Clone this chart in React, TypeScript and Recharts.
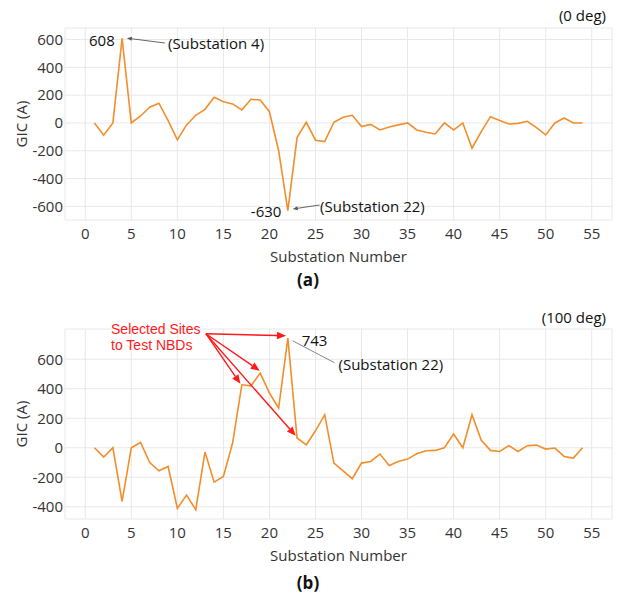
import { LineChart, Line, XAxis, YAxis, CartesianGrid, ReferenceLine, ReferenceDot } from 'recharts';

const substations = [
  1, 2, 3, 4, 5, 6, 7, 8, 9, 10, 11, 12, 13, 14, 15, 16, 17, 18, 19, 20, 21, 22, 23, 24, 25, 26, 27,
  28, 29, 30, 31, 32, 33, 34, 35, 36, 37, 38, 39, 40, 41, 42, 43, 44, 45, 46, 47, 48, 49, 50, 51, 52, 53, 54,
];
// GIC per substation, storm field at 0 deg
const gic0deg = [
  0, -88, 0, 608, 0, 50, 113, 142, 17, -122, -14, 55, 98, 185, 153, 137, 94, 170, 165, 81, -200, -630, -105, 5, -124, -134, 5,
  41, 55, -26, -10, -50, -29, -14, 0, -50, -67, -79, 0, -50, 0, -182, -62, 45, 17, -7, -3, 12, -34, -86, 0, 36, 0, 0,
];
// GIC per substation, storm field at 100 deg
const gic100deg = [
  0, -63, 0, -364, 0, 36, -100, -156, -127, -411, -321, -420, -29, -233, -194, 32, 427, 420, 506, 371, 269, 743, 66, 20, 115, 224, -104,
  -156, -210, -104, -93, -43, -120, -93, -77, -41, -20, -18, 0, 93, 0, 224, 50, -18, -25, 14, -25, 14, 18, -9, -2, -59, -70, 0,
];

const xTicks = [0, 5, 10, 15, 20, 25, 30, 35, 40, 45, 50, 55];
const yTicks0 = [-600, -400, -200, 0, 200, 400, 600];
const yTicks100 = [-400, -200, 0, 200, 400, 600];
// sites picked for the NBD tests in the 100 deg case
const selectedSites = [22, 19, 17, 23];

const ORANGE = '#F28E2B';
const GRID = '#e8e8e8';
const INK = '#333333';
const RED = '#ff1a1a';
const FONT = '"Open Sans", sans-serif';
const ARIAL = '"Liberation Sans", Arial, sans-serif';

const data0 = substations.map((s, i) => ({ s, gic: gic0deg[i] }));
const data100 = substations.map((s, i) => ({ s, gic: gic100deg[i] }));

// line from (x1,y1) to (x2,y2) with an arrowhead at the end
function arrow(color: string, width: number, head: number) {
  return (p: any) => {
    const { x1, y1, x2, y2 } = p;
    const a = Math.atan2(y2 - y1, x2 - x1);
    const hx = x2 - head * Math.cos(a);
    const hy = y2 - head * Math.sin(a);
    const w = head * 0.42;
    const pts = `${x2},${y2} ${hx + w * Math.sin(a)},${hy - w * Math.cos(a)} ${hx - w * Math.sin(a)},${hy + w * Math.cos(a)}`;
    return (
      <g>
        <line x1={x1} y1={y1} x2={hx} y2={hy} stroke={color} strokeWidth={width} />
        <polygon points={pts} fill={color} />
      </g>
    );
  };
}

function note(text: string, anchor: 'start' | 'end', opts: { color?: string; size?: number; font?: string } = {}) {
  return (p: any) => (
    <text
      x={p.cx}
      y={p.cy}
      textAnchor={anchor}
      dominantBaseline="central"
      fill={opts.color ?? '#111'}
      fontSize={opts.size ?? 15}
      fontFamily={opts.font ?? FONT}
    >
      {text}
    </text>
  );
}

const tickStyle = { fill: INK, fontSize: 15 };

function GicPanel({
  data,
  yTicks,
  yDomain,
  top,
  axisHeight,
  children,
}: {
  data: { s: number; gic: number }[];
  yTicks: number[];
  yDomain: [number, number];
  top: number;
  axisHeight: number;
  children?: any;
}) {
  return (
    <LineChart width={619} height={298} data={data} margin={{ top, right: 7, bottom: 0, left: 0 }}>
      <CartesianGrid stroke={GRID} strokeWidth={1} />
      <XAxis
        dataKey="s"
        type="number"
        domain={[-2.2, 57.2]}
        ticks={xTicks}
        axisLine={false}
        tickLine={false}
        tick={tickStyle}
        height={axisHeight}
        label={{ value: 'Substation Number', position: 'insideBottom', offset: axisHeight - 42, fill: INK, fontSize: 15 }}
      />
      <YAxis
        type="number"
        domain={yDomain}
        ticks={yTicks}
        axisLine={false}
        tickLine={false}
        tickSize={0}
        tickMargin={2}
        tick={tickStyle}
        width={65}
        label={{ value: 'GIC (A)', angle: -90, position: 'insideLeft', offset: 22, fill: INK, fontSize: 15, style: { textAnchor: 'middle' } }}
      />
      <Line type="linear" dataKey="gic" stroke={ORANGE} strokeWidth={1.6} dot={false} isAnimationActive={false} />
      {children}
    </LineChart>
  );
}

export default function App() {
  const arrowStart = { x: 13.1, y: 773 };
  const arrowEnds = [
    { x: 21.8, y: 759 },
    { x: 18.95, y: 522 },
    { x: 16.85, y: 434 },
    { x: 22.85, y: 81 },
  ];
  return (
    <div style={{ position: 'absolute', left: 0, top: 0, width: 619, height: 596, background: '#fff', fontFamily: FONT }}>
      <div style={{ position: 'absolute', left: 0, top: 0 }}>
        <GicPanel data={data0} yTicks={yTicks0} yDomain={[-698, 683]} top={28} axisHeight={78}>
          <ReferenceLine
            segment={[{ x: 8.64, y: 575 }, { x: 4.52, y: 610 }]}
            ifOverflow="visible"
            shape={arrow('#555', 0.9, 5)}
          />
          <ReferenceDot x={3.2} y={597} ifOverflow="visible" shape={note('608', 'end')} />
          <ReferenceDot x={8.98} y={575} ifOverflow="visible" shape={note('(Substation 4)', 'start')} />
          <ReferenceLine
            segment={[{ x: 25.45, y: -590 }, { x: 22.53, y: -619 }]}
            ifOverflow="visible"
            shape={arrow('#555', 0.9, 5)}
          />
          <ReferenceDot x={21.3} y={-633} ifOverflow="visible" shape={note('-630', 'end')} />
          <ReferenceDot x={25.5} y={-597} ifOverflow="visible" shape={note('(Substation 22)', 'start')} />
        </GicPanel>
      </div>
      <div style={{ position: 'absolute', left: 0, top: 298 }}>
        <GicPanel data={data100} yTicks={yTicks100} yDomain={[-483, 805]} top={31} axisHeight={77}>
          <ReferenceLine
            segment={[{ x: 22.52, y: 725 }, { x: 27.07, y: 576 }]}
            ifOverflow="visible"
            stroke="#777"
            strokeWidth={0.9}
          />
          <ReferenceDot x={23.5} y={732} ifOverflow="visible" shape={note('743', 'start')} />
          <ReferenceDot x={27.5} y={570} ifOverflow="visible" shape={note('(Substation 22)', 'start')} />
          {arrowEnds.map((e, i) => (
            <ReferenceLine
              key={selectedSites[i]}
              segment={[arrowStart, e]}
              ifOverflow="visible"
              shape={arrow(RED, 1.4, 9)}
            />
          ))}
          <ReferenceDot x={2.8} y={807} ifOverflow="visible" shape={note('Selected Sites', 'start', { color: RED, size: 14, font: ARIAL })} />
          <ReferenceDot x={2.8} y={698} ifOverflow="visible" shape={note('to Test NBDs', 'start', { color: RED, size: 14, font: ARIAL })} />
        </GicPanel>
      </div>
      <div style={{ position: 'absolute', right: 13, top: 5, fontSize: 15, color: '#111', lineHeight: '20px' }}>(0 deg)</div>
      <div style={{ position: 'absolute', left: 308, top: 270, transform: 'translateX(-50%)', fontSize: 17, fontWeight: 700, color: '#111', lineHeight: '20px' }}>(a)</div>
      <div style={{ position: 'absolute', right: 13, top: 307, fontSize: 15, color: '#111', lineHeight: '20px' }}>(100 deg)</div>
      <div style={{ position: 'absolute', left: 308, top: 573, transform: 'translateX(-50%)', fontSize: 17, fontWeight: 700, color: '#111', lineHeight: '20px' }}>(b)</div>
    </div>
  );
}
